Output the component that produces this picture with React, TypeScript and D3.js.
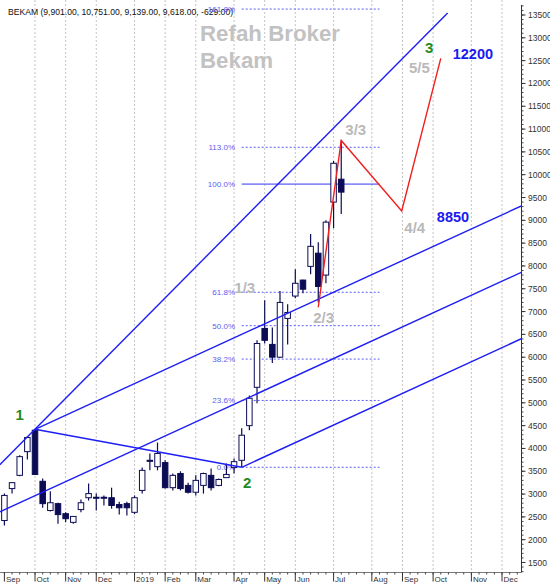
import React from "react";
import * as d3 from "d3";

const W = 550;
const H = 585;

// weekly candles, week 0 = first week of Sep 2018
const opens = [2420, 3120, 3410, 3930, 4400, 3280, 2640, 2790, 2570, 2380, 2660, 2920, 2930, 2930, 2920, 2770, 2790, 2600, 3080, 3740, 3600, 3690, 3140, 3450, 3190, 3040, 3190, 3410, 3190, 3360, 3580, 3740, 4500, 5340, 6630, 6280, 6000, 6850, 7340, 7690, 7990, 8280, 7800, 9400, 9901];
const highs = [3010, 3260, 3850, 4260, 4420, 3340, 3060, 2810, 2600, 2520, 2880, 3230, 3010, 2970, 3140, 2830, 2830, 2970, 3580, 3890, 4130, 3740, 3450, 3500, 3250, 3410, 3470, 3560, 3340, 3670, 3780, 4440, 5160, 6370, 7250, 6650, 7450, 7160, 7930, 7700, 8700, 8520, 9000, 10300, 10751];
const lows = [2310, 3010, 3390, 3760, 3420, 2700, 2620, 2350, 2380, 2350, 2600, 2860, 2640, 2750, 2680, 2550, 2530, 2560, 3010, 3520, 3520, 3120, 3080, 3080, 3010, 2970, 3010, 3080, 3170, 3360, 3450, 3590, 4400, 4990, 6300, 5870, 5980, 6280, 7290, 7400, 7820, 7200, 7620, 8830, 9139];
const closes = [2970, 3250, 3820, 4240, 3430, 2790, 2810, 2550, 2460, 2510, 2810, 3010, 2915, 2920, 2750, 2700, 2700, 2920, 3520, 3720, 3890, 3140, 3410, 3120, 3040, 3300, 3450, 3140, 3320, 3430, 3710, 4290, 5100, 6300, 6370, 6000, 7200, 6980, 7620, 7490, 8430, 7550, 8960, 10250, 9618];

const monthLabels = ["Sep", "Oct", "Nov", "Dec", "2019", "Feb", "Mar", "Apr", "May", "Jun", "Jul", "Aug", "Sep", "Oct", "Nov", "Dec"];
const monthWeeks = [0, 4, 8, 12, 17, 21, 25, 30, 34, 38, 43, 48, 52, 56, 61, 65];

const fibLevels = [0, 0.236, 0.382, 0.5, 0.618, 1, 1.13, 1.618];
const fibLabels = ["0.0%", "23.6%", "38.2%", "50.0%", "61.8%", "100.0%", "113.0%", "161.8%"];
const fibLow = 3587;
const fibHigh = 9794;
const fibWeeks = [31, 49];

// trend lines as [week, price] anchors
const fanLine = [[-0.6, 3645], [57.9, 13544]];
const pivotLine = [[4, 4420], [31, 3587]];
const channelTop = [[4, 4420], [67.6, 9320]];
const channelMid = [[-0.6, 2610], [67.6, 7865]];
const channelLow = [[31, 3587], [67.6, 6410]];
const waveLine = [[41, 7094], [44, 10751], [51.9, 9206], [57, 12550]];

const pivotTexts = [
  { t: "1", w: 2.0, p: 4614 },
  { t: "2", w: 31.7, p: 3123 },
  { t: "3", w: 55.5, p: 12666 },
];
const waveTexts = [
  { t: "1/3", w: 31.4, p: 7401 },
  { t: "2/3", w: 41.7, p: 6742 },
  { t: "3/3", w: 45.9, p: 10867 },
  { t: "4/4", w: 53.6, p: 8717 },
  { t: "5/5", w: 54.2, p: 12227 },
];
const targetTexts = [
  { t: "12200", w: 61.2, p: 12535 },
  { t: "8850", w: 58.6, p: 8958 },
];

const font = "'Liberation Sans', Arial, sans-serif";
const navy = "#0c0c55";
const blue = "#1e1ef5";
const fibColor = "#5c5cf0";

const App = () => {
  const axisX = 521.5;
  const axisY = 572.5;

  const x = d3.scaleLinear().domain([0, 65]).range([4.4, 502]);
  const y = d3.scaleLinear().domain([1500, 13500]).range([562.5, 15]);

  const line = d3
    .line<number[]>()
    .x(d => x(d[0]))
    .y(d => y(d[1]));

  const yTicks = d3.range(1500, 13501, 500);
  const yMinor = d3.range(1300, 13701, 100);
  const weekTicks = d3.range(0, 68);
  const bodyW = 5.5;

  return (
    <svg
      width={W}
      height={H}
      style={{ position: "absolute", left: 0, top: 0, background: "#fff" }}
      fontFamily={font}
    >
      <defs>
        <clipPath id="plot">
          <rect x={0} y={0} width={axisX} height={axisY} />
        </clipPath>
      </defs>

      {/* month grid */}
      {monthWeeks.slice(1).map((w, i) => (
        <line
          key={"g" + i}
          x1={x(w)}
          x2={x(w)}
          y1={0}
          y2={axisY}
          stroke="#c4c4c4"
          strokeDasharray="2,2"
        />
      ))}

      {/* watermark */}
      <text x={200} y={41} fontSize={22.3} fontWeight="bold" fill="#c2c2c2">Refah Broker</text>
      <text x={200} y={68} fontSize={22.3} fontWeight="bold" fill="#c2c2c2">Bekam</text>

      <text x={8} y={15} fontSize={8.6} fill="#111">
        BEKAM (9,901.00, 10,751.00, 9,139.00, 9,618.00, -629.00)
      </text>

      {/* fibonacci levels */}
      {fibLevels.map((f, i) => {
        const yy = y(fibLow + f * (fibHigh - fibLow));
        return (
          <g key={"f" + i}>
            <line
              x1={x(fibWeeks[0])}
              x2={x(fibWeeks[1])}
              y1={yy}
              y2={yy}
              stroke={f === 1 ? "#3535f5" : fibColor}
              strokeWidth={1}
              strokeDasharray={f === 1 ? undefined : "2,2"}
            />
            <text x={235} y={yy + 3} fontSize={8} fill={fibColor} textAnchor="end">
              {fibLabels[i]}
            </text>
          </g>
        );
      })}

      {/* candles */}
      {opens.map((o, i) => {
        const c = closes[i];
        const up = c >= o;
        const cx = x(i);
        const top = y(Math.max(o, c));
        const bot = y(Math.min(o, c));
        return (
          <g key={"c" + i}>
            <line x1={cx} x2={cx} y1={y(highs[i])} y2={y(lows[i])} stroke={navy} strokeWidth={1.2} />
            <rect
              x={cx - bodyW / 2}
              y={top}
              width={bodyW}
              height={Math.max(1, bot - top)}
              fill={up ? "#fff" : navy}
              stroke={navy}
              strokeWidth={1}
            />
          </g>
        );
      })}

      {/* trend lines */}
      <g clipPath="url(#plot)" fill="none" stroke={blue} strokeWidth={1.4}>
        <path d={line(fanLine) || ""} />
        <path d={line(pivotLine) || ""} />
        <path d={line(channelTop) || ""} />
        <path d={line(channelMid) || ""} />
        <path d={line(channelLow) || ""} />
      </g>
      <path d={line(waveLine) || ""} fill="none" stroke="#f02020" strokeWidth={1.4} />

      {/* annotations */}
      {pivotTexts.map(d => (
        <text key={d.t} x={x(d.w)} y={y(d.p)} fontSize={15} fontWeight="bold" fill="#1f8c1f" textAnchor="middle">
          {d.t}
        </text>
      ))}
      {waveTexts.map(d => (
        <text key={d.t} x={x(d.w)} y={y(d.p)} fontSize={15} fontWeight="bold" fill="#b9b9b9" textAnchor="middle">
          {d.t}
        </text>
      ))}
      {targetTexts.map(d => (
        <text key={d.t} x={x(d.w)} y={y(d.p)} fontSize={14.5} fontWeight="bold" fill="#1a1af0" textAnchor="middle">
          {d.t}
        </text>
      ))}

      {/* y axis */}
      <line x1={axisX} x2={axisX} y1={5} y2={axisY} stroke="#333" />
      {yMinor.map(v => (
        <line key={"m" + v} x1={axisX} x2={axisX + 2} y1={y(v)} y2={y(v)} stroke="#444" />
      ))}
      {yTicks.map(v => (
        <g key={"t" + v}>
          <line x1={axisX} x2={axisX + 4} y1={y(v)} y2={y(v)} stroke="#333" />
          <text x={528} y={y(v) + 3} fontSize={8.5} fill="#333">
            {v}
          </text>
        </g>
      ))}

      {/* x axis */}
      <line x1={0} x2={axisX} y1={axisY} y2={axisY} stroke="#555" strokeWidth={0.8} />
      {weekTicks.map(w => (
        <line key={"w" + w} x1={x(w)} x2={x(w)} y1={axisY} y2={axisY + 2} stroke="#444" />
      ))}
      {monthWeeks.map((w, i) => (
        <g key={"mt" + i}>
          <line x1={x(w)} x2={x(w)} y1={axisY} y2={axisY + 9} stroke="#333" />
          <text x={x(w) + 1.5} y={582} fontSize={8} fill="#333">
            {monthLabels[i]}
          </text>
        </g>
      ))}
    </svg>
  );
};

export default App;
